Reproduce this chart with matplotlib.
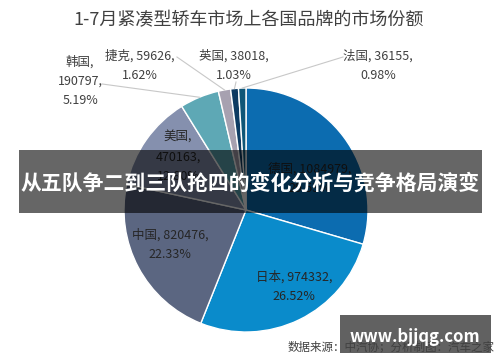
import numpy as np
import matplotlib
matplotlib.use("Agg")
import matplotlib.pyplot as plt
from matplotlib.patches import Rectangle

plt.rcParams["font.family"] = ["Noto Sans CJK SC", "DejaVu Sans"]

# data
brands = ["德国", "日本", "中国", "美国", "韩国", "捷克", "英国", "法国"]
sales = [1084979, 974332, 820476, 470163, 190797, 59626, 38018, 36155]
colors = ["#0c6cb0", "#0a8bcb", "#5b6681", "#8590ae", "#5ea8b5",
          "#a7a1b0", "#0d3b62", "#0f5677"]
title = "1-7月紧凑型轿车市场上各国品牌的市场份额"
banner = "从五队争二到三队抢四的变化分析与竞争格局演变"
source = "数据来源：中汽协；分析制图：汽车之家"
watermark = "www.bjjqg.com"

# label layout (data units, pie radius = 1)
label_fmt = ["{n}, {v},\n{p}", "{n}, {v},\n{p}", "{n}, {v},\n{p}", "{n},\n{v},\n{p}",
             "{n},\n{v},\n{p}", "{n}, {v},\n{p}", "{n}, {v},\n{p}", "{n}, {v},\n{p}"]
label_xy = [(0.525, 0.254), (0.393, -0.631), (-0.623, -0.287), (-0.557, 0.434),
            (-1.36, 1.057), (-0.869, 1.18), (-0.098, 1.18), (1.082, 1.18)]
leader_from = [None, None, None, None,
               (-1.18, 1.033), (-0.566, 1.254), (-0.082, 1.049), (0.795, 1.254)]

W, H, DPI = 500, 362, 100
cx, cy, R = 246, 210, 122  # pie centre / radius in pixels

fig = plt.figure(figsize=(W / DPI, H / DPI), dpi=DPI)
ax = fig.add_axes([0, 0, 1, 1])

wedges, _ = ax.pie(sales, colors=colors, startangle=90, counterclock=False,
                   radius=1, wedgeprops=dict(edgecolor="white", linewidth=1.0))
ax.set_aspect("auto")
ax.set_xlim(-cx / R, (W - cx) / R)
ax.set_ylim(-(H - cy) / R, cy / R)
ax.axis("off")

total = sum(sales)
for i, w in enumerate(wedges):
    pct = f"{sales[i] / total * 100:.2f}%"
    txt = label_fmt[i].format(n=brands[i], v=sales[i], p=pct)
    inside = leader_from[i] is None
    ax.text(*label_xy[i], txt, ha="center", va="center", fontsize=9,
            color="#262626" if inside else "#404040", linespacing=1.65)
    if not inside:
        mid = np.deg2rad((w.theta1 + w.theta2) / 2)
        ax.plot([leader_from[i][0], np.cos(mid)], [leader_from[i][1], np.sin(mid)],
                color="#c8c8c8", lw=0.8)

fig.text(0.498, 0.943, title, ha="center", va="center", fontsize=13, color="#404040")
fig.text(0.99, 0.041, source, ha="right", va="center", fontsize=8.3, color="#404040")

# overlay banner
fig.patches.append(Rectangle((0.038, 0.4116), 0.926, 0.174, transform=fig.transFigure,
                             facecolor="black", alpha=0.6, edgecolor="none"))
fig.text(0.5, 0.494, banner, ha="center", va="center", fontsize=15,
         fontweight="bold", color="white")

# watermark box
fig.patches.append(Rectangle((0.68, 0.025), 0.302, 0.105, transform=fig.transFigure,
                             facecolor="#3a3a3a", alpha=0.8, edgecolor="none"))
fig.text(0.83, 0.07, watermark, ha="center", va="center", fontsize=12,
         fontweight="bold", color="white")

fig.savefig("out.png", dpi=DPI)
